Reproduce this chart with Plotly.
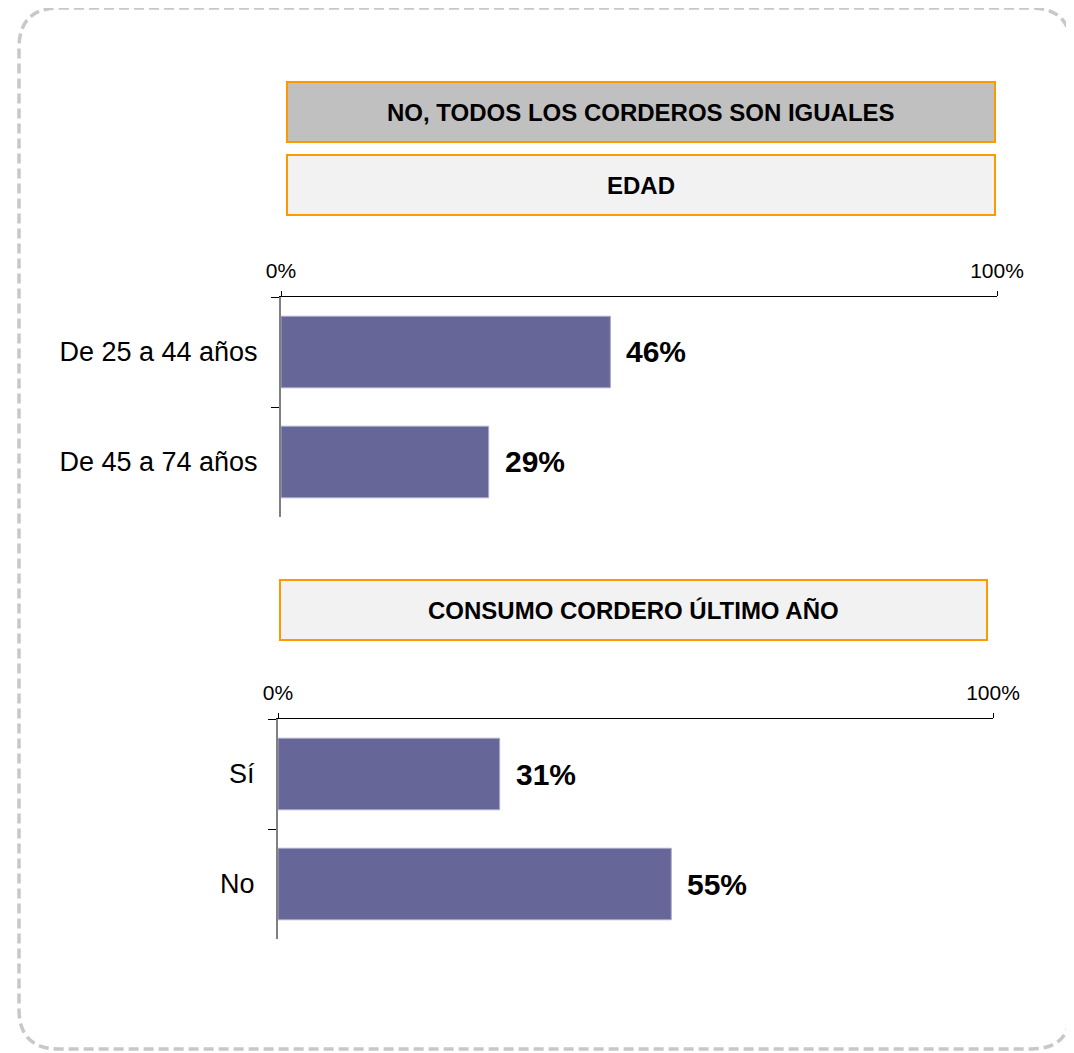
import plotly.graph_objects as go

W, H = 1074, 1053
OFF = 8  # page body margin offset

# ---- data ----
edad_cats = ["De 25 a 44 años", "De 45 a 74 años"]
edad_vals = [0.46, 0.29]
consumo_cats = ["Sí", "No"]
consumo_vals = [0.31, 0.55]
tick_vals = [0, 1]
tick_text = ["0%", "100%"]
title_main = "NO, TODOS LOS CORDEROS SON IGUALES"
title_edad = "EDAD"
title_consumo = "CONSUMO CORDERO ÚLTIMO AÑO"

FONT = "Liberation Sans, Arial, sans-serif"
BAR = "#666699"
ORANGE = "#FF9900"


def px(x):
    return (x - OFF) / W


def py(y):
    return 1 - (y - OFF) / H


fig = go.Figure()

fig.add_trace(go.Bar(x=edad_vals, y=edad_cats, orientation="h", width=0.65,
                     marker=dict(color=BAR, line=dict(color="#a9a9c9", width=1)),
                     xaxis="x", yaxis="y", hoverinfo="skip"))
fig.add_trace(go.Bar(x=consumo_vals, y=consumo_cats, orientation="h", width=0.65,
                     marker=dict(color=BAR, line=dict(color="#a9a9c9", width=1)),
                     xaxis="x2", yaxis="y2", hoverinfo="skip"))

xcommon = dict(range=[0, 1], side="top", tickmode="array", tickvals=tick_vals,
               ticktext=tick_text, showline=True, linecolor="black", linewidth=1,
               ticks="outside", ticklen=5, tickcolor="black", showgrid=False,
               zeroline=False, tickfont=dict(family=FONT, size=21, color="black"),
               ticklabelstandoff=5, automargin=False, fixedrange=True)
ycommon = dict(type="category", tickson="boundaries", ticks="outside", ticklen=8,
               tickcolor="black", showline=True, linecolor="#808080", linewidth=2,
               showgrid=False, zeroline=False, range=[1.5, -0.5],
               tickfont=dict(family=FONT, size=27, color="black"),
               ticklabelstandoff=16, automargin=False, fixedrange=True)

fig.update_layout(
    template="none",
    width=W, height=H, autosize=False,
    margin=dict(l=0, r=0, t=0, b=0, pad=0),
    paper_bgcolor="white", plot_bgcolor="white",
    showlegend=False, bargap=0.35,
    font=dict(family=FONT, color="black"),
    xaxis=dict(domain=[px(281), px(997)], anchor="y", **xcommon),
    yaxis=dict(domain=[py(517), py(297)], anchor="x", **ycommon),
    xaxis2=dict(domain=[px(278), px(993)], anchor="y2", **xcommon),
    yaxis2=dict(domain=[py(939), py(719)], anchor="x2", **ycommon),
)

# value labels
for cats, vals, xa, ya in [(edad_cats, edad_vals, "x", "y"),
                           (consumo_cats, consumo_vals, "x2", "y2")]:
    for c, v in zip(cats, vals):
        fig.add_annotation(x=v, y=c, xref=xa, yref=ya, text=f"<b>{round(v*100)}%</b>",
                           showarrow=False, xanchor="left", xshift=14,
                           font=dict(family=FONT, size=30, color="black"))

# header boxes
boxes = [((287, 82, 995, 142), "#C0C0C0", title_main),
         ((287, 155, 995, 215), "#F2F2F2", title_edad),
         ((280, 580, 987, 640), "#F2F2F2", title_consumo)]
for (x0, y0, x1, y1), fill, txt in boxes:
    fig.add_shape(type="rect", xref="paper", yref="paper",
                  x0=px(x0), x1=px(x1), y0=py(y1), y1=py(y0),
                  fillcolor=fill, line=dict(color=ORANGE, width=2), layer="below")
    fig.add_annotation(xref="paper", yref="paper", x=px((x0 + x1) / 2), y=py((y0 + y1) / 2),
                       text=f"<b>{txt}</b>", showarrow=False, xanchor="center", yanchor="middle",
                       font=dict(family=FONT, size=24, color="black"))

# dashed rounded border
L, T, R, B, r = 19, 8, 1071, 1049, 40
path = (f"M {px(L + r)},{py(T)} L {px(R - r)},{py(T)} "
        f"Q {px(R)},{py(T)} {px(R)},{py(T + r)} "
        f"L {px(R)},{py(B - r)} Q {px(R)},{py(B)} {px(R - r)},{py(B)} "
        f"L {px(L + r)},{py(B)} Q {px(L)},{py(B)} {px(L)},{py(B - r)} "
        f"L {px(L)},{py(T + r)} Q {px(L)},{py(T)} {px(L + r)},{py(T)} Z")
fig.add_shape(type="path", path=path, xref="paper", yref="paper",
              line=dict(color="#C8C8C8", width=3.5, dash="10px,5px"), layer="below")

fig.write_html("out.html")
